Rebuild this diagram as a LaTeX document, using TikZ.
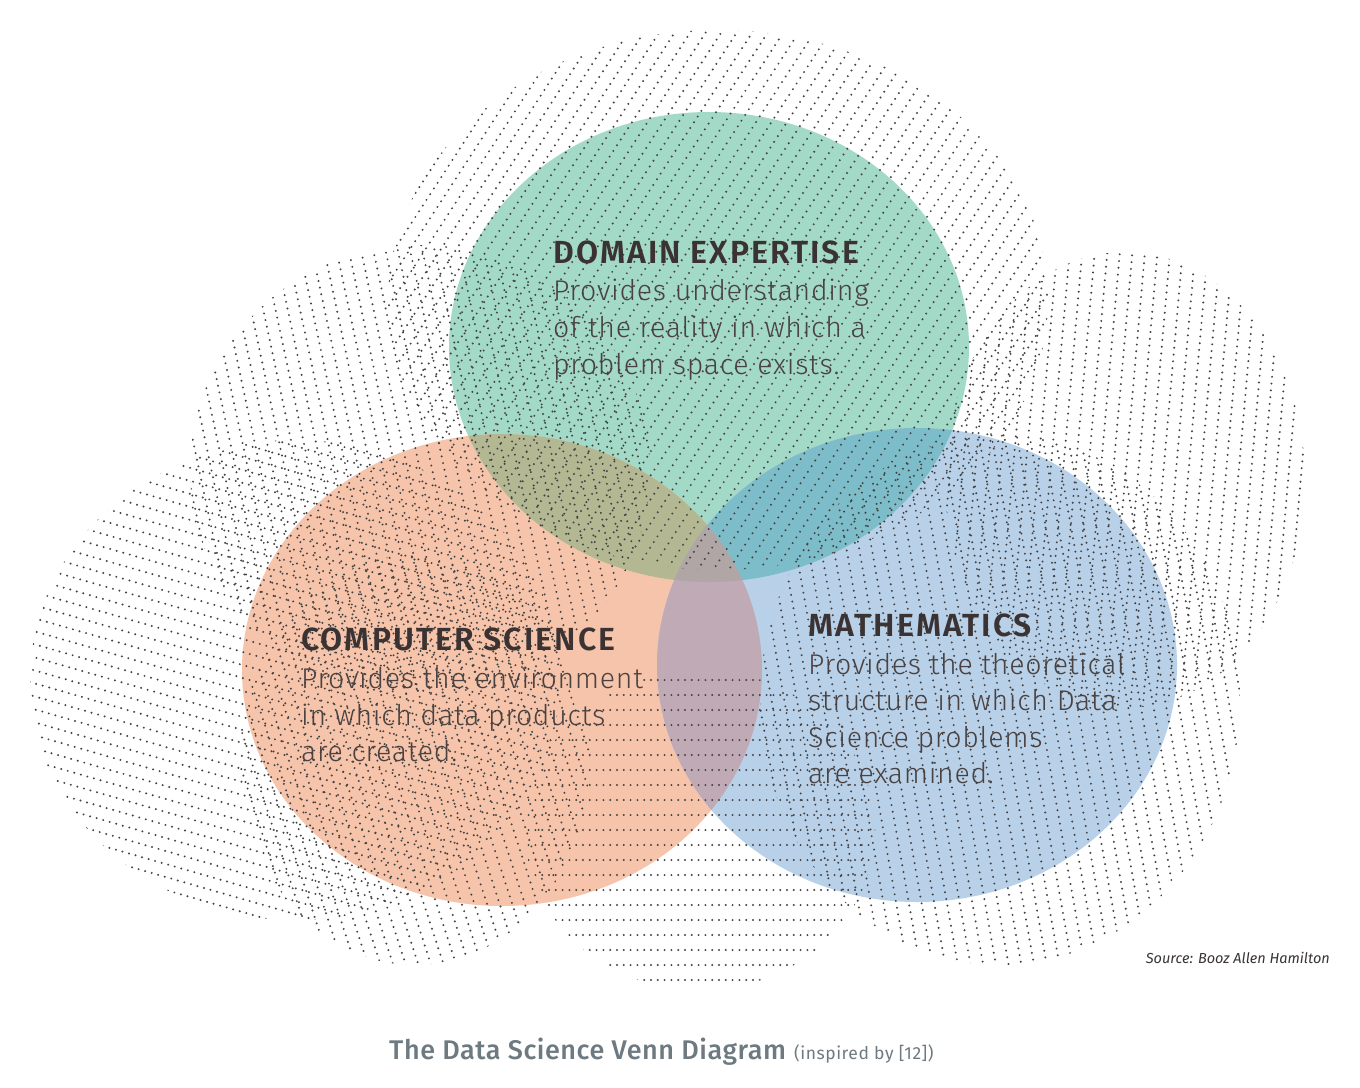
\documentclass[tikz,border=0pt]{standalone}
\usepackage{fontspec}
\setmainfont{Fira Sans}
\newfontfamily\headfont[LetterSpace=6.5]{Fira Sans SemiBold}
\newfontfamily\bodyfont[LetterSpace=2.5]{Fira Sans Light}
\newfontfamily\titlefont[LetterSpace=2]{Fira Sans Medium}
\newfontfamily\notefont[LetterSpace=3]{Fira Sans}
\definecolor{dotgray}{HTML}{444444}
\definecolor{cgreen}{HTML}{A3D9C7}
\definecolor{corange}{HTML}{F6C4AA}
\definecolor{cblue}{HTML}{B9D1E8}
\definecolor{cgo}{HTML}{B3B893}
\definecolor{cgb}{HTML}{7DBDC9}
\definecolor{cob}{HTML}{BFAAB5}
\definecolor{cgob}{HTML}{B0A6A6}
\definecolor{headcol}{HTML}{3B3333}
\definecolor{bodycol}{HTML}{4A4242}
\definecolor{titlecol}{HTML}{6E7A81}

% a field of parallel dotted lines clipped to an ellipse
% #1,#2 centre, #3,#4 radii, #5 line angle, #6 line spacing
\newcommand\dotfield[6]{%
  \begin{scope}
    \clip (#1,#2) ellipse [x radius=#3pt, y radius=#4pt];
    \begin{scope}[shift={(#1,#2)}, rotate=#5]
      \pgfmathtruncatemacro\nlines{max(#3,#4)/#6+1}
      \pgfmathsetmacro\halflen{max(#3,#4)+10}
      \foreach \k in {-\nlines,...,\nlines}
        \draw[dotline] (-\halflen,\k*#6) -- (\halflen,\k*#6);
    \end{scope}
  \end{scope}}

\begin{document}
\begin{tikzpicture}[x=1pt,y=-1pt,
  dotline/.style={draw=dotgray, line width=2.2pt, line cap=round, dash pattern=on 0pt off 6.8pt},
  head/.style={anchor=base west, inner sep=0pt, text=headcol, font=\headfont\fontsize{32}{32}\selectfont},
  body/.style={anchor=base west, inner sep=0pt, text=bodycol, font=\bodyfont\fontsize{28.5}{28.5}\selectfont}]

\useasboundingbox[fill=white] (0,0) rectangle (1360,1087);

% Venn discs
\fill[cgreen]  (709,347) ellipse [x radius=260pt, y radius=235pt];
\fill[corange] (502,670) ellipse [x radius=260pt, y radius=236pt];
\fill[cblue]   (917,665) ellipse [x radius=260pt, y radius=237pt];
\begin{scope}
  \clip (709,347) ellipse [x radius=260pt, y radius=235pt];
  \fill[cgo] (502,670) ellipse [x radius=260pt, y radius=236pt];
  \fill[cgb] (917,665) ellipse [x radius=260pt, y radius=237pt];
\end{scope}
\begin{scope}
  \clip (502,670) ellipse [x radius=260pt, y radius=236pt];
  \fill[cob] (917,665) ellipse [x radius=260pt, y radius=237pt];
  \clip (709,347) ellipse [x radius=260pt, y radius=235pt];
  \fill[cgob] (917,665) ellipse [x radius=260pt, y radius=237pt];
\end{scope}

% dotted hatching around and across the discs
\dotfield{718}{300}{330}{270}{57}{13}
\dotfield{420}{470}{230}{225}{-78}{12}
\dotfield{295}{680}{265}{240}{-16}{12.5}
\dotfield{1125}{480}{180}{228}{85}{12.5}
\dotfield{1000}{700}{240}{265}{100}{12.5}
\dotfield{415}{760}{175}{205}{-72}{12}
\dotfield{700}{830}{175}{160}{0}{15}

% labels
\node[head] (domhead) at (553,263) {DOMAIN EXPERTISE};
\node[body] (dom1) at (553,300) {Provides understanding};
\node[body] (dom2) at (553,337) {of the reality in which a};
\node[body] (dom3) at (553,374) {problem space exists.};

\node[head] (cshead) at (301,650) {COMPUTER SCIENCE};
\node[body] (cs1) at (301,688) {Provides the environment};
\node[body] (cs2) at (301,725) {in which data products};
\node[body] (cs3) at (301,761) {are created.};

\node[head] (mathead) at (808,636) {MATHEMATICS};
\node[body] (mat1) at (808,674) {Provides the theoretical};
\node[body] (mat2) at (808,710) {structure in which Data};
\node[body] (mat3) at (808,747) {Science problems};
\node[body] (mat4) at (808,783) {are examined.};

\node[anchor=base east, inner sep=0pt, text=headcol, font=\itshape\fontsize{14.5}{15}\selectfont] (source) at (1330,963) {Source: Booz Allen Hamilton};

\node[anchor=base west, inner sep=0pt, text=titlecol, font=\titlefont\fontsize{27}{27}\selectfont] (title) at (389,1059)
  {The Data Science Venn Diagram};
\node[anchor=base west, inner sep=0pt, text=titlecol, font=\notefont\fontsize{17.5}{18}\selectfont] (titlenote) at (794,1059)
  {(inspired by [12])};
\end{tikzpicture}
\end{document}
